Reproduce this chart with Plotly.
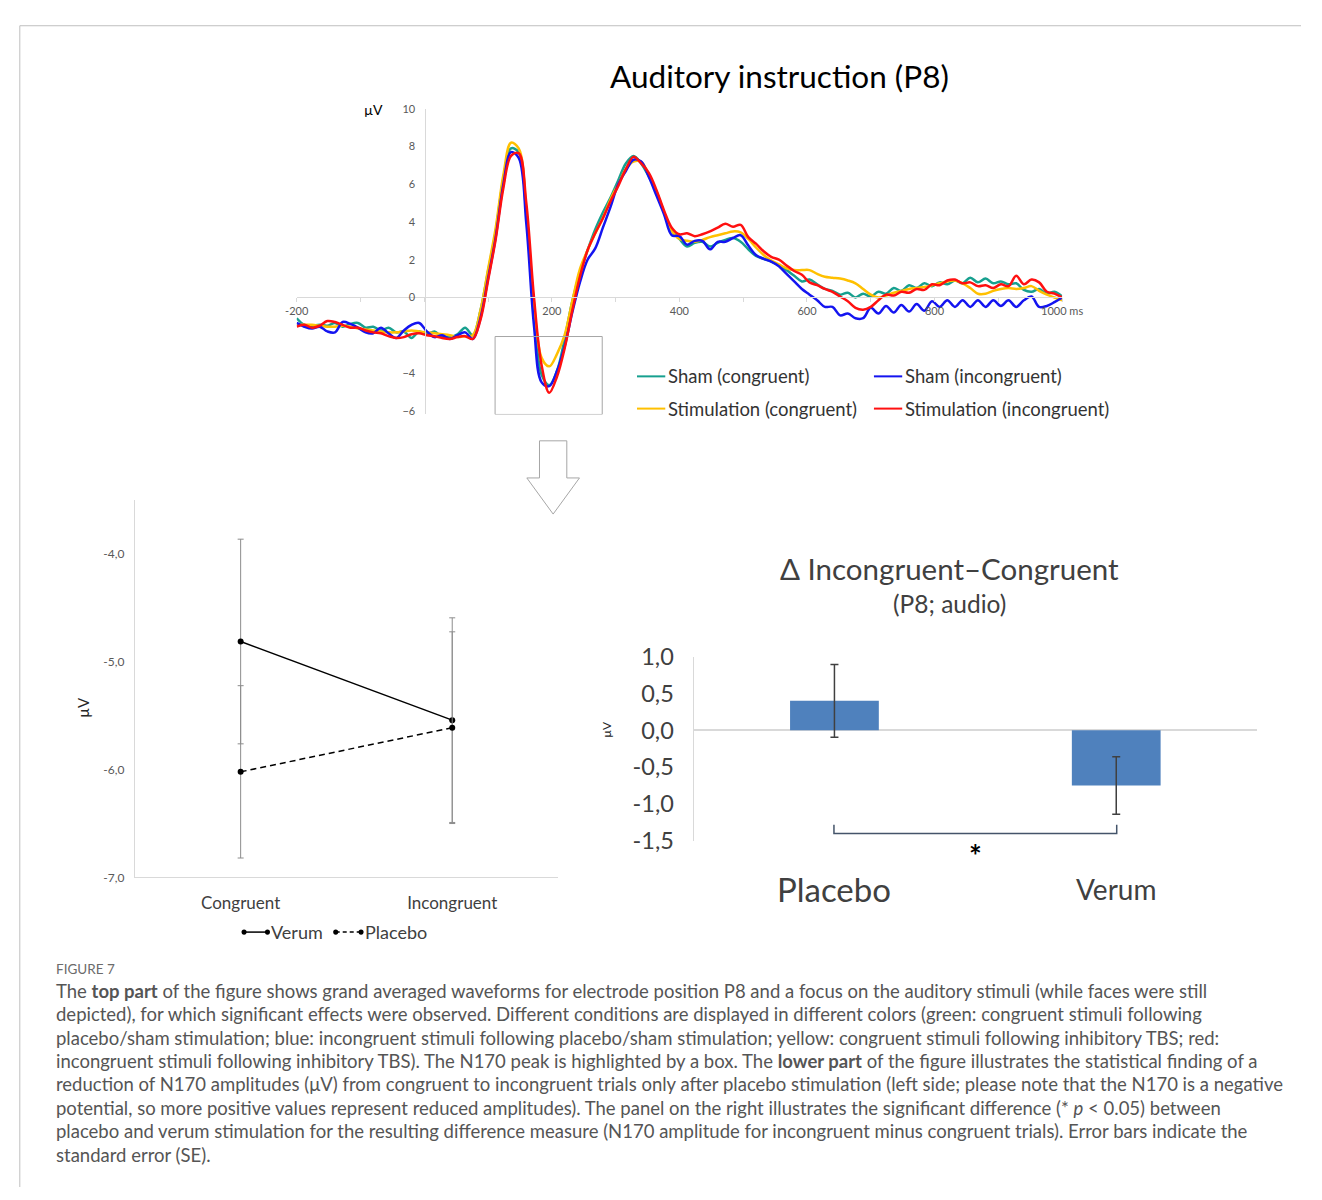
import plotly.graph_objects as go

W, H = 1322, 1200


def px(x):
    return x / W


def py(y):
    return 1 - y / H


# ---- Grand-averaged waveforms, electrode P8 (µV), sampled every 12 ms ----
times = list(range(-200, 1001, 12))

sham_congruent = [
    -1.1, -1.45, -1.5, -1.45, -1.5, -1.35, -1.55, -1.4, -1.35, -1.6,
    -1.55, -1.75, -1.6, -1.85, -1.8, -2.15, -1.8, -1.95, -1.8, -2.1,
    -2.1, -1.95, -1.6, -2.0, -0.7, 1.4, 3.5, 6.3, 7.9, 7.7,
    4.4, -0.7, -4.1, -4.65, -3.9, -2.2, -0.2, 1.3, 2.5, 3.6,
    4.5, 5.3, 6.2, 7.1, 7.5, 7.1, 6.4, 5.6, 4.5, 3.55,
    3.1, 2.7, 2.9, 2.95, 2.7, 2.9, 3.05, 3.15, 2.95, 2.55,
    2.2, 2.05, 1.9, 1.7, 1.45, 1.15, 0.85, 0.95, 0.7, 0.45,
    0.35, 0.15, 0.25, 0.0, 0.2, 0.05, 0.3, 0.2, 0.5, 0.35,
    0.65, 0.5, 0.75, 0.6, 0.8, 0.7, 0.9, 0.75, 1.05, 0.8,
    1.0, 0.75, 0.85, 0.7, 0.75, 0.4, 0.3, 0.45, 0.2, 0.3,
    0.05,
]

sham_incongruent = [
    -1.35, -1.55, -1.65, -1.55, -1.8, -1.85, -1.3, -1.4, -1.6, -1.85,
    -1.9, -1.6, -1.9, -2.15, -1.75, -1.45, -1.35, -1.8, -2.1, -2.0,
    -2.2, -2.0, -1.85, -2.2, -1.1, 1.0, 3.2, 6.0, 7.7, 7.4,
    3.9, -1.5, -4.5, -4.7, -3.9, -2.6, -0.8, 0.8, 2.0, 2.6,
    3.7, 4.8, 6.0, 6.7, 7.3, 7.2, 6.4, 5.4, 4.4, 3.3,
    3.25, 2.8, 3.0, 3.0, 2.55, 2.95, 2.95, 3.15, 3.3, 2.75,
    2.25, 2.05, 1.9, 1.65, 1.25, 0.85, 0.45, 0.15, -0.15, -0.5,
    -0.5, -0.95, -0.85, -1.1, -1.1, -0.55, -0.85, -0.45, -0.8, -0.4,
    -0.75, -0.35, -0.7, -0.2, -0.5, -0.15, -0.5, -0.15, -0.5, -0.15,
    -0.5, -0.15, -0.45, -0.15, -0.5, -0.15, 0.05, -0.5, -0.45, -0.25,
    0.0,
]

stim_congruent = [
    -1.45, -1.45, -1.45, -1.5, -1.55, -1.55, -1.5, -1.55, -1.65, -1.7,
    -1.75, -1.8, -1.85, -1.85, -1.8, -1.75, -1.8, -1.85, -1.9, -1.95,
    -2.0, -2.1, -2.05, -2.0, -0.7, 1.5, 3.7, 6.5, 8.2, 7.9,
    4.6, -0.3, -3.2, -3.65, -3.0, -2.0, -0.2, 1.5, 2.5, 3.4,
    4.2, 5.2, 6.0, 6.8, 7.2, 7.2, 6.5, 5.6, 4.5, 3.55,
    3.1, 3.0, 2.95, 3.05, 3.2, 3.3, 3.4, 3.5, 3.45, 3.1,
    2.65, 2.25, 1.95, 1.75, 1.55, 1.45, 1.45, 1.45, 1.25, 1.1,
    1.05, 1.0, 0.9, 0.75, 0.45, 0.15, 0.0, 0.1, 0.25, 0.35,
    0.45, 0.5, 0.55, 0.65, 0.75, 0.85, 0.9, 0.75, 0.5, 0.2,
    0.2, 0.35, 0.45, 0.5, 0.45, 0.5, 0.6, 0.35, 0.15, 0.0,
    -0.15,
]

stim_incongruent = [
    -1.55, -1.45, -1.6, -1.5, -1.25, -1.3, -1.45, -1.6, -1.6, -1.75,
    -1.85, -1.9, -2.05, -2.15, -2.1, -1.95, -1.9, -2.0, -2.05, -2.15,
    -2.2, -2.1, -2.05, -2.2, -1.2, 0.9, 3.1, 5.8, 7.5, 7.65,
    5.0, 0.0, -3.6, -5.05, -4.2, -2.7, -0.7, 1.1, 2.5, 3.4,
    4.2, 5.1, 5.9, 6.8, 7.45, 7.1, 6.6, 5.7, 4.6, 3.7,
    3.35, 3.4, 3.25, 3.35, 3.5, 3.7, 3.9, 3.75, 3.85, 3.2,
    2.85, 2.45, 2.15, 2.0, 1.7, 1.4, 1.2, 0.8, 0.65, 0.45,
    0.3, 0.05, -0.2, -0.55, -0.65, -0.5, -0.15, 0.15, 0.1, 0.3,
    0.25, 0.45, 0.4, 0.7, 0.65, 0.9, 0.95, 0.75, 0.8, 0.6,
    0.65, 0.5, 0.7, 0.6, 1.15, 0.7, 0.95, 0.8, 0.3, 0.2,
    0.0,
]

wave_names = ["Sham (congruent)", "Sham (incongruent)",
              "Stimulation (congruent)", "Stimulation (incongruent)"]
wave_colors = ["#17a08f", "#1414f0", "#ffc000", "#ff1010"]
wave_ticks = [-200, 200, 400, 600, 800, 1000]
wave_ticktext = ["-200", "200", "400", "600", "800", "1000 ms"]
volt_ticks = [10, 8, 6, 4, 2, 0, -4, -6]

# ---- N170 amplitude by condition (mean ± SE) ----
conditions = ["Congruent", "Incongruent"]
verum_means = [-4.81, -5.54]
verum_se = [0.95, 0.95]
placebo_means = [-6.02, -5.61]
placebo_se = [0.80, 0.89]
n170_ticks = [-7, -6, -5, -4]
n170_ticktext = ["-7,0", "-6,0", "-5,0", "-4,0"]

# ---- Incongruent minus congruent difference (mean ± SE) ----
groups = ["Placebo", "Verum"]
delta_means = [0.40, -0.75]
delta_se = [0.495, 0.39]
delta_ticks = [1.0, 0.5, 0.0, -0.5, -1.0, -1.5]
delta_ticktext = ["1,0", "0,5", "0,0", "-0,5", "-1,0", "-1,5"]

FONT = "Lato"
AXIS_GREY = "#d9d9d9"
TEXT_GREY = "#404040"

fig = go.Figure()

# waveforms (green and yellow underneath, blue and red on top)
wave_series = [sham_congruent, sham_incongruent, stim_congruent, stim_incongruent]
for i in [0, 2, 1, 3]:
    fig.add_trace(go.Scatter(
        x=times, y=wave_series[i], mode="lines", name=wave_names[i],
        line=dict(color=wave_colors[i], width=2.5, shape="spline", smoothing=1.0),
        xaxis="x", yaxis="y", showlegend=False, hoverinfo="skip",
    ))

# N170 interaction plot
fig.add_trace(go.Scatter(
    x=conditions, y=verum_means, mode="lines+markers", name="Verum",
    line=dict(color="black", width=1.5),
    marker=dict(color="black", size=6),
    error_y=dict(type="data", array=verum_se, color="#8c8c8c", thickness=1, width=3),
    xaxis="x2", yaxis="y2", showlegend=False,
))
fig.add_trace(go.Scatter(
    x=conditions, y=placebo_means, mode="lines+markers", name="Placebo",
    line=dict(color="black", width=1.5, dash="6px,4px"),
    marker=dict(color="black", size=6),
    error_y=dict(type="data", array=placebo_se, color="#8c8c8c", thickness=1, width=3),
    xaxis="x2", yaxis="y2", showlegend=False,
))

# Difference bars
fig.add_trace(go.Bar(
    x=groups, y=delta_means, width=0.315,
    marker=dict(color="#4f81bd", line=dict(width=0)),
    error_y=dict(type="data", array=delta_se, color="#404040", thickness=1.5, width=4),
    xaxis="x3", yaxis="y3", showlegend=False,
))

shapes = []
annotations = []

# outer frame (top and left edges)
shapes.append(dict(type="line", xref="paper", yref="paper",
                   x0=px(8), x1=1, y0=py(11), y1=py(11),
                   line=dict(color="#bfbfbf", width=1)))
shapes.append(dict(type="line", xref="paper", yref="paper",
                   x0=px(8), x1=px(8), y0=py(11), y1=0,
                   line=dict(color="#bfbfbf", width=1)))

# N170 highlight box
shapes.append(dict(type="rect", xref="x", yref="y", x0=111, x1=279, y0=-6.2, y1=-2.07,
                   line=dict(color="#a6a6a6", width=1), fillcolor="rgba(0,0,0,0)"))

# down arrow
arrow_pts = [(541, 436), (569, 436), (569, 474), (582, 474), (555, 511), (528, 474), (541, 474)]
path = "M " + " L ".join(f"{px(a):.5f},{py(b):.5f}" for a, b in arrow_pts) + " Z"
shapes.append(dict(type="path", xref="paper", yref="paper", path=path,
                   line=dict(color="#a6a6a6", width=1), fillcolor="white"))

# top legend
legend_pos = [(641, 370), (884, 370), (641, 403), (884, 403)]
for (lx, ly), name, color in zip(legend_pos, wave_names, wave_colors):
    shapes.append(dict(type="line", xref="paper", yref="paper",
                       x0=px(lx), x1=px(lx + 29), y0=py(ly), y1=py(ly),
                       line=dict(color=color, width=2)))
    annotations.append(dict(xref="paper", yref="paper", x=px(lx + 30), y=py(ly),
                            xanchor="left", yanchor="middle", showarrow=False,
                            text=name, font=dict(family=FONT, size=18.5, color="#333333")))


# bottom-left legend
def dot(cx, cy, r=2.6):
    return dict(type="circle", xref="paper", yref="paper",
                x0=px(cx - r), x1=px(cx + r), y0=py(cy + r), y1=py(cy - r),
                line=dict(color="black", width=0), fillcolor="black")


shapes.append(dict(type="line", xref="paper", yref="paper", x0=px(238), x1=px(262),
                   y0=py(939), y1=py(939), line=dict(color="black", width=1.5)))
shapes += [dot(238, 939), dot(262, 939)]
shapes.append(dict(type="line", xref="paper", yref="paper", x0=px(332), x1=px(358),
                   y0=py(939), y1=py(939),
                   line=dict(color="black", width=1.5, dash="4px,3px")))
shapes += [dot(332, 939), dot(358, 939)]
annotations.append(dict(xref="paper", yref="paper", x=px(264), y=py(939), xanchor="left",
                        yanchor="middle", showarrow=False, text="Verum",
                        font=dict(family=FONT, size=18, color=TEXT_GREY)))
annotations.append(dict(xref="paper", yref="paper", x=px(360), y=py(939), xanchor="left",
                        yanchor="middle", showarrow=False, text="Placebo",
                        font=dict(family=FONT, size=18, color=TEXT_GREY)))

# significance bracket
bracket = (f"M {px(843):.5f},{py(829):.5f} L {px(843):.5f},{py(838):.5f} "
           f"L {px(1133):.5f},{py(838):.5f} L {px(1133):.5f},{py(829):.5f}")
shapes.append(dict(type="path", xref="paper", yref="paper", path=bracket,
                   line=dict(color="#44546a", width=1.5)))
annotations.append(dict(xref="paper", yref="paper", x=px(988), y=py(860), showarrow=False,
                        text="<b>*</b>", font=dict(family=FONT, size=30, color="black"),
                        xanchor="center", yanchor="middle"))

# titles and labels
annotations.append(dict(xref="paper", yref="paper", x=px(787), y=py(62), showarrow=False,
                        text="Auditory instruction (P8)", xanchor="center", yanchor="middle",
                        font=dict(family=FONT, size=31.5, color="black")))
annotations.append(dict(xref="paper", yref="paper", x=px(371), y=py(97), showarrow=False,
                        text="µV", xanchor="center", yanchor="middle",
                        font=dict(family=FONT, size=14, color="black")))
annotations.append(dict(xref="paper", yref="paper", x=px(73), y=py(709), showarrow=False,
                        text="µV", xanchor="center", yanchor="middle", textangle=-90,
                        font=dict(family=FONT, size=15, color="#262626")))
annotations.append(dict(xref="paper", yref="paper", x=px(610), y=py(731), showarrow=False,
                        text="µV", xanchor="center", yanchor="middle", textangle=-90,
                        font=dict(family=FONT, size=12, color="#262626")))
annotations.append(dict(xref="paper", yref="paper", x=px(961), y=py(567), showarrow=False,
                        text="Δ Incongruent–Congruent", xanchor="center", yanchor="middle",
                        font=dict(family=FONT, size=29.5, color=TEXT_GREY)))
annotations.append(dict(xref="paper", yref="paper", x=px(961), y=py(603), showarrow=False,
                        text="(P8; audio)", xanchor="center", yanchor="middle",
                        font=dict(family=FONT, size=24.5, color=TEXT_GREY)))
for g, size in zip(groups, [33, 28]):
    annotations.append(dict(xref="x3", yref="paper", x=g, y=py(895), showarrow=False,
                            text=g, xanchor="center", yanchor="middle",
                            font=dict(family=FONT, size=size, color=TEXT_GREY)))

# caption
caption_lines = [
    "The <b>top part</b> of the figure shows grand averaged waveforms for electrode position P8 and a focus on the auditory stimuli (while faces were still",
    "depicted), for which significant effects were observed. Different conditions are displayed in different colors (green: congruent stimuli following",
    "placebo/sham stimulation; blue: incongruent stimuli following placebo/sham stimulation; yellow: congruent stimuli following inhibitory TBS; red:",
    "incongruent stimuli following inhibitory TBS). The N170 peak is highlighted by a box. The <b>lower part</b> of the figure illustrates the statistical finding of a",
    "reduction of N170 amplitudes (μV) from congruent to incongruent trials only after placebo stimulation (left side; please note that the N170 is a negative",
    "potential, so more positive values represent reduced amplitudes). The panel on the right illustrates the significant difference (* <i>p</i> &lt; 0.05) between",
    "placebo and verum stimulation for the resulting difference measure (N170 amplitude for incongruent minus congruent trials). Error bars indicate the",
    "standard error (SE).",
]
annotations.append(dict(xref="paper", yref="paper", x=px(43), y=py(977), showarrow=False,
                        text="FIGURE 7", xanchor="left", yanchor="middle",
                        font=dict(family=FONT, size=13.5, color="#6b6b6b")))
for k, line in enumerate(caption_lines):
    annotations.append(dict(xref="paper", yref="paper", x=px(43), y=py(999 + 24 * k),
                            showarrow=False, text=line, xanchor="left", yanchor="middle",
                            font=dict(family=FONT, size=18.5, color="#555555")))

fig.update_layout(
    width=W, height=H,
    margin=dict(l=0, r=0, t=0, b=0),
    paper_bgcolor="white", plot_bgcolor="rgba(0,0,0,0)",
    font=dict(family=FONT),
    showlegend=False,
    shapes=shapes,
    annotations=annotations,
    # waveform axes
    xaxis=dict(domain=[px(292), px(1077)], range=[-200, 1000], anchor="free",
               position=py(289), showline=True, linecolor=AXIS_GREY, linewidth=1,
               showgrid=False, zeroline=False, tickvals=wave_ticks, ticktext=wave_ticktext,
               ticks="outside", ticklen=4, tickcolor=AXIS_GREY,
               minor=dict(dtick=100, ticks="outside", ticklen=4, tickcolor=AXIS_GREY),
               tickfont=dict(family=FONT, size=11, color="#595959")),
    yaxis=dict(domain=[py(409), py(96)], range=[-6.2, 10], anchor="free",
               position=px(424), showline=True, linecolor=AXIS_GREY, linewidth=1,
               showgrid=False, zeroline=False, tickvals=volt_ticks, ticks="",
               ticklabelstandoff=8,
               tickfont=dict(family=FONT, size=11, color="#595959")),
    # N170 interaction axes
    xaxis2=dict(domain=[px(126), px(560)], range=[-0.5, 1.5], anchor="y2",
                type="category", showline=True, linecolor=AXIS_GREY, linewidth=1,
                showgrid=False, zeroline=False, ticks="", ticklabelstandoff=10,
                tickfont=dict(family=FONT, size=17, color=TEXT_GREY)),
    yaxis2=dict(domain=[py(883), py(497)], range=[-7, -3.5], anchor="x2",
                showline=True, linecolor=AXIS_GREY, linewidth=1, showgrid=False,
                zeroline=False, tickvals=n170_ticks, ticktext=n170_ticktext, ticks="",
                ticklabelstandoff=7,
                tickfont=dict(family=FONT, size=12, color="#595959")),
    # difference axes
    xaxis3=dict(domain=[px(699), px(1277)], range=[-0.5, 1.5], anchor="y3",
                type="category", showline=False, showgrid=False, zeroline=False,
                showticklabels=False, ticks=""),
    yaxis3=dict(domain=[py(845.5), py(657)], range=[-1.5, 1.0], anchor="x3",
                showline=True, linecolor=AXIS_GREY, linewidth=1, showgrid=False,
                zeroline=True, zerolinecolor=AXIS_GREY, zerolinewidth=2,
                tickvals=delta_ticks, ticktext=delta_ticktext, ticks="",
                ticklabelstandoff=14,
                tickfont=dict(family=FONT, size=23.5, color=TEXT_GREY)),
)

# keep the page flush with the window so the figure is shown at its own size
fig.write_html("out.html",
               post_script="document.body.style.margin='0';document.body.style.overflow='hidden';")
